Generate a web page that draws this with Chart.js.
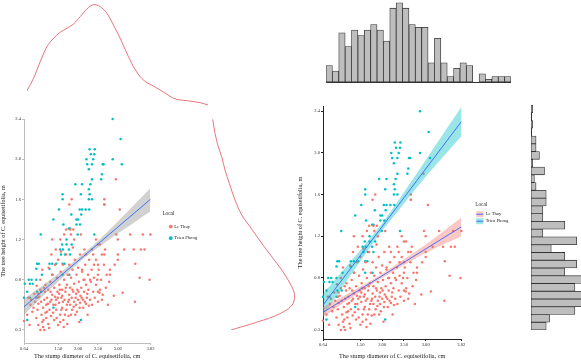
<!DOCTYPE html>
<html>
<head>
<meta charset="utf-8">
<script src="https://cdn.jsdelivr.net/npm/chart.js@4.4.0/dist/chart.umd.min.js"></script>
<style>
  body { margin: 0; background: #fff; }
  #wrap { position: relative; width: 581px; height: 360px; overflow: hidden; background: #fff; }
  canvas { position: absolute; }
</style>
</head>
<body>
<div id="wrap">
  <canvas id="densTop" width="181" height="110" style="left:27px;top:0px"></canvas>
  <canvas id="densSide" width="95" height="211" style="left:205px;top:119px"></canvas>
  <canvas id="histTop" width="185" height="91" style="left:326px;top:0px"></canvas>
  <canvas id="histSide" width="58" height="225" style="left:523px;top:105px"></canvas>
  <canvas id="scatterAll" width="211" height="260" style="left:0px;top:100px"></canvas>
  <canvas id="scatterLocal" width="218" height="260" style="left:297px;top:100px"></canvas>
</div>
<script>
// groups and colours
const groups = ['Le Thuy', 'Trieu Phong'];
const groupColors = ['#F8766D', '#00BFC4'];
const bandColors = ['rgba(248,118,109,0.4)', 'rgba(0,191,196,0.4)'];

// axis ticks
const xTicks = [0.64, 1.5, 2.0, 2.5, 3.0, 3.82];
const xTickLabels = ['0.64', '1.50', '2.00', '2.50', '3.00', '3.82'];
const yTicks = [0.3, 0.8, 1.2, 1.6, 2.0, 2.4];
const yTickLabels = ['0.3', '0.8', '1.2', '1.6', '2.0', '2.4'];
const xTitle = 'The stump diameter of C. equisetifolia, cm';
const yTitle = 'The tree height of C. equisetifolia, m';

// stump diameter (cm), tree height (m)
const leThuy = [
  [2.95,1.80],[3.05,1.50],[2.66,1.60],[2.66,1.55],[1.84,1.60],[1.78,1.55],
  [1.70,1.30],[1.80,1.30],[1.88,1.30],[1.65,1.25],[1.82,1.25],[2.07,1.25],
  [2.96,1.25],[3.31,1.25],[3.63,1.25],[3.82,1.25],[1.35,1.20],[1.55,1.20],
  [1.90,1.20],[3.00,1.20],[2.50,1.15],[2.55,1.15],[3.16,1.10],[3.40,1.10],
  [3.58,1.10],[3.67,1.10],[2.35,1.10],[2.60,1.05],[2.66,1.05],[3.00,1.05],
  [2.20,1.05],[2.45,1.00],[3.00,1.00],[2.40,0.95],[2.50,0.95],[2.92,0.95],
  [3.44,0.96],[2.80,0.90],[2.10,0.90],[2.50,0.85],[2.80,0.85],[3.55,0.82],
  [3.80,0.80],[2.16,0.80],[2.30,0.80],[2.48,0.80],[2.90,0.64],[3.12,0.67],
  [3.43,0.58],[2.50,0.68],[2.54,0.67],
  [0.64,0.39],[0.72,0.45],[0.80,0.55],[0.82,0.60],[0.75,0.62],[0.88,0.52],
  [0.90,0.66],[0.78,0.35],[0.85,0.48],
  [0.95,0.42],[0.98,0.50],[1.00,0.56],[1.02,0.63],[1.05,0.70],[1.08,0.45],
  [1.10,0.38],[1.12,0.52],[1.15,0.60],[1.18,0.75],[0.96,0.74],[1.05,0.80],
  [1.12,0.33],[1.15,0.30],[1.20,0.42],[1.20,0.55],[1.00,0.66],[1.10,0.90],
  [1.18,0.47],
  [1.22,0.62],[1.25,0.70],[1.25,0.36],[1.28,0.50],[1.30,0.58],[1.30,0.78],
  [1.32,0.44],[1.35,0.65],[1.36,0.85],[1.38,0.55],[1.40,0.72],[1.40,0.40],
  [1.42,0.95],[1.45,0.60],[1.45,0.50],[1.47,0.82],[1.48,0.68],[1.50,0.35],
  [1.50,1.00],[1.26,0.92],[1.33,1.05],[1.44,1.10],
  [1.52,0.57],[1.53,0.75],[1.55,0.45],[1.56,0.88],[1.58,0.62],[1.60,0.70],
  [1.60,0.52],[1.62,0.95],[1.63,0.40],[1.65,0.80],[1.66,0.60],[1.68,0.68],
  [1.70,0.50],[1.70,1.05],[1.72,0.75],[1.74,0.85],[1.75,0.58],[1.76,0.44],
  [1.78,0.65],[1.78,0.95],[1.80,0.72],[1.80,0.55],[1.57,1.08],[1.64,0.33],
  [1.73,0.36],
  [1.82,0.82],[1.84,0.62],[1.85,0.50],[1.86,0.90],[1.88,0.68],[1.90,0.76],
  [1.90,0.58],[1.92,1.00],[1.93,0.45],[1.95,0.66],[1.96,0.85],[1.98,0.70],
  [2.00,0.60],[2.00,0.92],[2.02,0.78],[2.04,0.52],[2.05,1.05],[2.06,0.64],
  [2.08,0.72],[2.10,0.88],[1.87,1.12],[2.03,0.38],[1.95,0.55],
  [2.12,0.60],[2.14,0.80],[2.15,0.68],[2.18,0.95],[2.20,0.56],[2.20,0.75],
  [2.22,0.62],[2.25,0.85],[2.26,0.70],[2.28,1.00],[2.30,0.60],[2.32,0.78],
  [2.34,0.90],[2.35,0.55],[2.38,0.68],[2.40,0.82],[2.24,0.45],[2.16,1.10],
  [2.38,1.05],
  [2.42,0.62],[2.45,0.75],[2.50,0.58],[2.52,0.90],[2.55,0.70],[2.58,0.80],
  [2.60,0.60],[2.62,0.65],[2.65,0.95],[2.70,0.72],[2.72,0.85],[2.75,0.55],
  [2.78,0.78],[2.45,1.20],[2.68,1.10],
  [1.00,0.35],[1.05,0.30],[1.13,0.40],[1.17,0.68],[1.22,0.48],[1.27,0.32],
  [1.33,0.60],[1.37,0.47],[1.42,0.63],[1.46,0.42],[1.52,0.66],[1.55,0.38],
  [1.58,0.50],[1.62,0.58],[1.67,0.45],[1.69,0.72],[1.72,0.55],[1.77,0.60],
  [1.82,0.45],[1.86,0.70],[1.89,0.53],[1.94,0.62],[1.97,0.48],[2.01,0.68],
  [2.05,0.57],[2.09,0.62],[2.13,0.52],[2.17,0.58],[2.23,0.66],[2.27,0.54],
  [0.92,0.58],[0.98,0.62],[1.07,0.58],[1.14,0.72],[1.24,0.56],[1.31,0.68],
  [1.43,0.55],[1.49,0.62],[1.54,0.70],[1.60,0.64]
];
const trieuPhong = [
  [2.87,2.40],[3.07,2.20],[2.29,2.10],[2.42,2.10],[2.32,2.05],[2.41,2.05],
  [2.21,2.00],[2.38,2.00],[2.87,2.00],[2.23,1.95],[2.35,1.95],[2.62,1.95],
  [2.64,1.95],[3.10,1.95],[2.27,1.90],[2.60,1.85],[2.35,1.80],[2.58,1.80],
  [1.93,1.75],[2.10,1.75],[2.31,1.75],[2.27,1.70],[1.61,1.65],[2.07,1.65],
  [2.29,1.65],[1.61,1.60],[2.27,1.60],[2.35,1.60],[2.66,1.55],[1.52,1.50],
  [2.04,1.50],[2.10,1.50],[2.19,1.50],[2.28,1.50],[1.83,1.45],[2.08,1.45],
  [1.38,1.40],[1.96,1.40],[2.00,1.40],[1.63,1.35],[1.96,1.35],[2.05,1.35],
  [1.77,1.31],[1.80,1.31],[1.06,1.25],[1.99,1.25],[2.41,1.25],[1.71,1.20],
  [1.60,1.15],[1.71,1.15],[1.84,1.15],[1.55,1.10],[1.62,1.10],[1.77,1.10],
  [1.57,1.05],[1.67,1.05],[1.80,1.05],[0.97,0.96],[1.01,0.96],[1.28,0.96],
  [1.35,0.96],[1.45,0.96],[1.61,0.96],[1.66,0.96],[0.95,0.91],[1.28,0.91],
  [1.09,0.85],[1.35,0.85],[1.61,0.85],[1.78,0.85],[0.76,0.80],[0.83,0.80],
  [0.95,0.80],[0.66,0.76],[0.79,0.76],[0.86,0.76],[0.72,0.68],[0.97,0.68],
  [1.07,0.68],[0.64,0.62],[0.79,0.62],[0.95,0.62],[1.38,0.52],[0.72,0.40],
  [2.07,0.40]
];

// fitted lines and confidence bands
const fitX = [0.64, 3.82];
const fitAll = [0.53, 1.60];
const fitLeThuy = [0.47, 1.29];
const fitTrieuPhong = [0.54, 2.30];
const bandX = [0.64, 1.2, 1.8, 2.0, 2.4, 3.0, 3.82];
const bandAllUpper = [0.61, 0.77, 0.95, 1.015, 1.15, 1.38, 1.71];
const bandAllLower = [0.45, 0.67, 0.89, 0.965, 1.09, 1.26, 1.48];
const bandLeThuyUpper = [0.52, 0.645, 0.79, 0.84, 0.95, 1.12, 1.38];
const bandLeThuyLower = [0.42, 0.585, 0.75, 0.80, 0.90, 1.04, 1.20];
const bandTrieuPhongUpper = [0.65, 0.92, 1.22, 1.325, 1.56, 1.93, 2.44];
const bandTrieuPhongLower = [0.43, 0.78, 1.14, 1.255, 1.46, 1.77, 2.16];

// marginal density of stump diameter
const densDiameter = [0.64,0.756,0.873,0.991,1.107,1.224,1.342,1.457,1.575,1.692,1.808,1.926,2.043,2.159,2.276,2.394,2.51,2.627,2.745,2.861,2.978,3.096,3.211,3.329,3.446,3.562,3.68,3.82];
const densDiameterValue = [0.097,0.159,0.242,0.317,0.359,0.389,0.409,0.43,0.467,0.505,0.527,0.517,0.484,0.425,0.359,0.284,0.217,0.167,0.137,0.12,0.1,0.079,0.059,0.05,0.047,0.042,0.037,0.025];
// marginal density of tree height
const densHeight = [2.397,2.258,2.124,2.025,1.893,1.76,1.594,1.445,1.328,1.163,1.03,0.898,0.765,0.666,0.566,0.5,0.433,0.367,0.317,0.3];
const densHeightValue = [0.0385,0.05,0.0665,0.0835,0.1,0.1215,0.15,0.1835,0.225,0.2835,0.3335,0.3835,0.425,0.4465,0.4415,0.4085,0.3415,0.2415,0.1585,0.13];

// histogram counts
const diameterCounts = [6,4,18,13,19,17,19,21,19,15,27,29,27,21,20,20,7,16,7,2,5,7,6,0,3,1,2,2,2];
const heightCounts = [9,11,26,34,33,26,32,20,27,20,12,27,7,20,7,7,9,9,3,2,8,1,5,3,3,0,1,0,1]; // lowest bin first

Chart.defaults.font.family = 'Liberation Serif';
Chart.defaults.color = '#222';
Chart.defaults.animation = false;

const pts = arr => arr.map(p => ({ x: p[0], y: p[1] }));
const zipXY = (xs, ys) => xs.map((x, i) => ({ x: x, y: ys[i] }));
const densRed = '#e0505a';

function pointSet(label, data, color) {
  return { type: 'scatter', label: label, data: pts(data), backgroundColor: color, borderWidth: 0, pointRadius: 1.25, clip: false };
}
function lineSet(label, ys) {
  return { type: 'line', label: label, data: zipXY(fitX, ys), borderColor: '#3366FF', borderWidth: 0.9, pointRadius: 0, fill: false, clip: false };
}
function bandSets(label, upper, lower, color) {
  return [
    { type: 'line', label: label + ' upper', data: zipXY(bandX, upper), borderWidth: 0, pointRadius: 0, fill: '+1', backgroundColor: color, tension: 0.3, clip: false },
    { type: 'line', label: label + ' lower', data: zipXY(bandX, lower), borderWidth: 0, pointRadius: 0, fill: false, tension: 0.3, clip: false }
  ];
}

function scatterScales(yMin, yMax, xHeight, yWidth, axisColor, gap) {
  return {
    x: {
      type: 'linear', min: 0.64, max: 3.82,
      afterBuildTicks: a => { a.ticks = xTicks.map(v => ({ value: v })); },
      afterFit: a => { a.height = xHeight; },
      ticks: { callback: (v, i) => xTickLabels[i], font: { size: 4.6 }, color: '#333', padding: 1, maxRotation: 0, autoSkip: false },
      grid: { display: true, drawOnChartArea: false, drawTicks: true, tickLength: 2, color: axisColor },
      border: { display: true, color: axisColor },
      title: { display: true, text: xTitle, font: { size: 6.2 }, color: '#222', padding: { top: 0, bottom: 0 } }
    },
    y: {
      type: 'linear', min: yMin, max: yMax,
      afterBuildTicks: a => { a.ticks = yTicks.map(v => ({ value: v })); },
      afterFit: a => { a.width = yWidth; },
      ticks: { callback: (v, i) => yTickLabels[i], font: { size: 4.6 }, color: '#333', padding: 1 },
      grid: { display: true, drawOnChartArea: false, drawTicks: true, tickLength: 2, color: axisColor },
      border: { display: true, color: axisColor },
      title: { display: true, text: yTitle, font: { size: 6.2 }, color: '#222', padding: { top: 0, bottom: 0 } }
    },
    // empty strip between panel and legend
    gap: {
      type: 'linear', axis: 'y', position: 'right', display: true,
      afterFit: a => { a.width = gap; },
      ticks: { display: false }, grid: { display: false }, border: { display: false }
    }
  };
}

// left panel: both locals with one pooled fit
new Chart(document.getElementById('scatterAll'), {
  type: 'scatter',
  data: {
    datasets: [
      lineSet('fit', fitAll),
      ...bandSets('band', bandAllUpper, bandAllLower, 'rgba(153,153,153,0.45)'),
      pointSet(groups[0], leThuy, groupColors[0]),
      pointSet(groups[1], trieuPhong, groupColors[1])
    ]
  },
  options: {
    responsive: false, devicePixelRatio: 1,
    layout: { padding: { top: 19, right: 4, bottom: 0, left: 0 } },
    scales: scatterScales(0.17, 2.4, 17, 24, '#bdbdbd', 12),
    plugins: {
      tooltip: { enabled: false },
      legend: {
        position: 'right', align: 'start', maxWidth: 60,
        labels: {
          usePointStyle: true, pointStyle: 'circle', boxWidth: 2.6, boxHeight: 2.6, padding: 7,
          font: { size: 4.6 }, color: '#222',
          filter: item => groups.includes(item.text)
        },
        title: { display: true, text: 'Local', font: { size: 5.2 }, color: '#222', position: 'start', padding: { top: 92, bottom: 0 } }
      }
    }
  }
});

// right panel: a fit per local
const legendKeyLine = {
  id: 'legendKeyLine',
  afterDraw(chart) {
    const ctx = chart.ctx;
    const boxes = chart.legend.legendHitBoxes || [];
    ctx.save();
    ctx.strokeStyle = '#3366FF';
    ctx.lineWidth = 0.9;
    boxes.forEach(b => {
      ctx.beginPath();
      ctx.moveTo(b.left, b.top + 3);
      ctx.lineTo(b.left + 7, b.top + 3);
      ctx.stroke();
    });
    ctx.restore();
  }
};

new Chart(document.getElementById('scatterLocal'), {
  type: 'scatter',
  data: {
    datasets: [
      lineSet('fit Le Thuy', fitLeThuy),
      lineSet('fit Trieu Phong', fitTrieuPhong),
      ...bandSets('band Le Thuy', bandLeThuyUpper, bandLeThuyLower, bandColors[0]),
      ...bandSets('band Trieu Phong', bandTrieuPhongUpper, bandTrieuPhongLower, bandColors[1]),
      pointSet(groups[0], leThuy, groupColors[0]),
      pointSet(groups[1], trieuPhong, groupColors[1])
    ]
  },
  options: {
    responsive: false, devicePixelRatio: 1,
    layout: { padding: { top: 6, right: 4, bottom: 0, left: 0 } },
    scales: scatterScales(0.214, 2.45, 21, 26, '#222', 14),
    plugins: {
      tooltip: { enabled: false },
      legend: {
        position: 'right', align: 'start',
        labels: {
          boxWidth: 7, boxHeight: 6, padding: 1, font: { size: 4.6 }, color: '#222',
          generateLabels: () => groups.map((g, i) => ({
            text: g, fillStyle: bandColors[i], strokeStyle: bandColors[i], lineWidth: 0, hidden: false, datasetIndex: 6 + i
          }))
        },
        title: { display: true, text: 'Local', font: { size: 5.2 }, color: '#222', position: 'start', padding: { top: 96, bottom: 2 } }
      }
    }
  },
  plugins: [legendKeyLine]
});

// marginal densities
const hiddenAxis = { display: false };
new Chart(document.getElementById('densTop'), {
  type: 'scatter',
  data: { datasets: [{ data: zipXY(densDiameter, densDiameterValue), showLine: true, borderColor: densRed, borderWidth: 0.8, pointRadius: 0, tension: 0.3, clip: false }] },
  options: {
    responsive: false, devicePixelRatio: 1, layout: { padding: 0 },
    scales: { x: { ...hiddenAxis, min: 0.64, max: 3.82 }, y: { ...hiddenAxis, min: 0, max: 0.55 } },
    plugins: { legend: { display: false }, tooltip: { enabled: false } }
  }
});
new Chart(document.getElementById('densSide'), {
  type: 'scatter',
  data: { datasets: [{ data: zipXY(densHeightValue, densHeight), showLine: true, borderColor: densRed, borderWidth: 0.8, pointRadius: 0, tension: 0.3, clip: false }] },
  options: {
    responsive: false, devicePixelRatio: 1, layout: { padding: 0 },
    scales: { x: { ...hiddenAxis, min: 0, max: 0.475 }, y: { ...hiddenAxis, min: 0.3, max: 2.4 } },
    plugins: { legend: { display: false }, tooltip: { enabled: false } }
  }
});

// marginal histograms
const barStyle = { backgroundColor: '#bebebe', borderColor: '#333', borderWidth: 0.8, borderSkipped: false, categoryPercentage: 1, barPercentage: 1 };
new Chart(document.getElementById('histTop'), {
  type: 'bar',
  data: { labels: diameterCounts.map((_, i) => 'bin ' + (i + 1)), datasets: [{ data: diameterCounts, ...barStyle }] },
  options: {
    responsive: false, devicePixelRatio: 1, layout: { padding: { bottom: 1 } },
    scales: {
      x: { ticks: { display: false }, grid: { display: false }, border: { display: true, color: '#333' } },
      y: { display: false, min: 0, max: 30 }
    },
    plugins: { legend: { display: false }, tooltip: { enabled: false } }
  }
});
new Chart(document.getElementById('histSide'), {
  type: 'bar',
  data: { labels: heightCounts.map((_, i) => 'bin ' + (i + 1)), datasets: [{ data: heightCounts, ...barStyle }] },
  options: {
    indexAxis: 'y',
    responsive: false, devicePixelRatio: 1, layout: { padding: 0 },
    scales: {
      y: { reverse: true, ticks: { display: false }, grid: { display: false }, border: { display: true, color: '#333' } },
      x: { display: false, min: 0, max: 29.6 }
    },
    plugins: { legend: { display: false }, tooltip: { enabled: false } }
  }
});
</script>
</body>
</html>
